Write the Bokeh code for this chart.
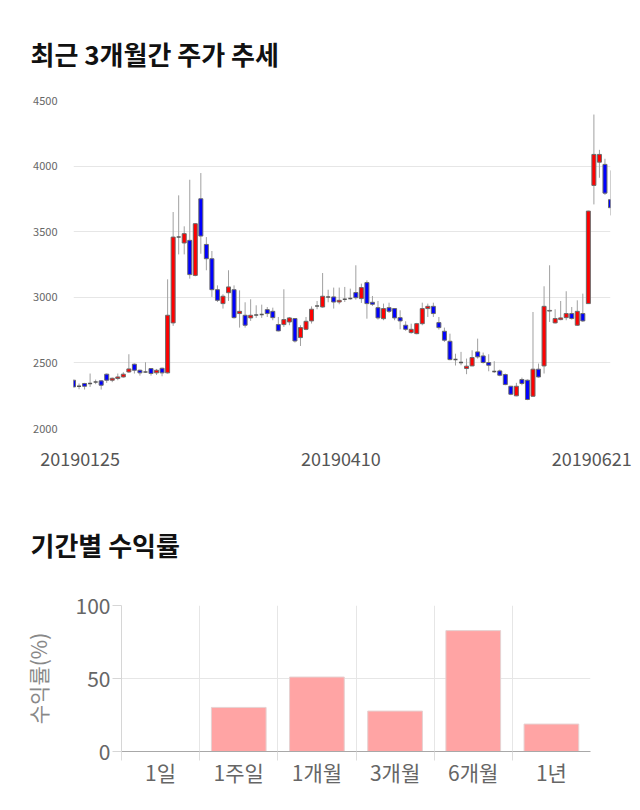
import numpy as np
from bokeh.plotting import figure
from bokeh.models import FixedTicker, Range1d, CustomJSTickFormatter
from bokeh.embed import file_html
from bokeh.resources import INLINE

# ---------------- data: candles (98 trading days) ----------------
opens = [2368, 2322, 2343, 2343, 2355, 2363, 2414, 2368, 2381, 2393,
         2431, 2490, 2444, 2431, 2457, 2424, 2459, 2424, 2805, 3460,
         3414, 3434, 3167, 3751, 3403, 3294, 3058, 2952, 3035, 3058,
         2876, 2863, 2843, 2866, 2868, 2906, 2893, 2792, 2792, 2812,
         2838, 2693, 2756, 2820, 2933, 2926, 3003, 3003, 2964, 2985,
         2990, 3036, 2990, 3112, 2962, 2921, 2837, 2921, 2914, 2845,
         2787, 2731, 2723, 2799, 2914, 2931, 2807, 2741, 2665, 2525,
         2503, 2457, 2477, 2584, 2553, 2503, 2434, 2439, 2411, 2322,
         2249, 2373, 2368, 2246, 2452, 2477, 2895, 2805, 2830, 2845,
         2876, 2787, 2876, 2952, 3853, 4030, 4013, 3744]
highs = [2375, 2343, 2348, 2419, 2373, 2368, 2419, 2388, 2419, 2429,
         2566, 2495, 2449, 2505, 2459, 2454, 2464, 3137, 3650, 3777,
         3541, 3896, 3565, 3947, 3459, 3353, 3091, 3023, 3206, 3091,
         3053, 2962, 2985, 2939, 2944, 2926, 2921, 2850, 3061, 2850,
         2840, 2787, 2850, 2931, 2972, 3185, 3058, 3074, 3074, 3079,
         3066, 3244, 3104, 3129, 3010, 2972, 2952, 2959, 2918, 2901,
         2817, 2799, 2805, 2959, 2952, 2959, 2850, 2769, 2723, 2570,
         2584, 2533, 2596, 2685, 2579, 2566, 2513, 2449, 2419, 2325,
         2348, 2388, 2373, 2888, 2495, 3084, 3244, 2909, 2972, 3046,
         2926, 2977, 3028, 3660, 4393, 4124, 4056, 3967]
lows = [2310, 2299, 2297, 2317, 2338, 2297, 2348, 2353, 2368, 2388,
        2424, 2419, 2403, 2424, 2403, 2408, 2398, 2419, 2782, 3327,
        3327, 3142, 3160, 3332, 3206, 3003, 2964, 2914, 2972, 2838,
        2769, 2769, 2820, 2843, 2843, 2850, 2825, 2740, 2774, 2787,
        2655, 2629, 2749, 2800, 2909, 2921, 2962, 2914, 2947, 2964,
        2982, 2982, 2957, 2837, 2934, 2830, 2825, 2880, 2825, 2756,
        2744, 2723, 2718, 2787, 2850, 2850, 2754, 2660, 2520, 2480,
        2482, 2414, 2475, 2533, 2495, 2436, 2424, 2398, 2330, 2254,
        2246, 2330, 2216, 2241, 2388, 2419, 2812, 2800, 2825, 2825,
        2830, 2782, 2812, 2950, 3708, 3911, 3780, 3624]
closes = [2317, 2322, 2322, 2343, 2355, 2330, 2368, 2383, 2393, 2414,
          2454, 2444, 2424, 2431, 2419, 2444, 2424, 2863, 3459, 3460,
          3485, 3173, 3561, 3467, 3294, 3058, 2977, 3008, 3079, 2845,
          2893, 2787, 2863, 2866, 2868, 2876, 2845, 2744, 2830, 2843,
          2667, 2769, 2817, 2909, 2933, 3008, 3003, 2964, 2977, 2985,
          2990, 2997, 3074, 2952, 2947, 2843, 2914, 2893, 2843, 2820,
          2756, 2756, 2799, 2914, 2931, 2876, 2769, 2673, 2525, 2525,
          2503, 2475, 2541, 2546, 2503, 2482, 2434, 2406, 2335, 2261,
          2322, 2343, 2221, 2452, 2393, 2931, 2900, 2838, 2843, 2876,
          2838, 2893, 2820, 3657, 4089, 4089, 3794, 3683]
date_labels = ["20190125", "20190410", "20190621"]
price_ticks = [2000, 2500, 3000, 3500, 4000, 4500]

# ---------------- data: period returns ----------------
periods = ["1일", "1주일", "1개월", "3개월", "6개월", "1년"]
returns = [0.0, 30.2, 51.0, 27.7, 82.8, 18.8]
return_ticks = [0, 50, 100]

FONT = "Noto Sans CJK KR"

# ================= candle chart =================
n = len(opens)
idx = np.arange(n)
o = np.array(opens, dtype=float)
c = np.array(closes, dtype=float)
h = np.array(highs, dtype=float)
l = np.array(lows, dtype=float)
up = c > o
dn = c < o
eq = c == o

p1 = figure(width=640, height=475, output_backend="svg", toolbar_location=None,
            x_range=Range1d(0, n - 1), y_range=Range1d(2000, 4500),
            min_border_left=73, min_border_right=30, min_border_top=100,
            min_border_bottom=47)
p1.outline_line_color = None
p1.background_fill_color = "white"
p1.border_fill_color = "white"

p1.title.text = "최근 3개월간 주가 추세"
p1.title.text_font = FONT
p1.title.text_font_size = "26px"
p1.title.text_font_style = "bold"
p1.title.text_color = "#111111"
p1.title.align = "left"
p1.title.vertical_align = "middle"
p1.title.offset = -43
p1.title.standoff = 56

bw = 0.72
p1.segment(idx, l, idx, h, color="#a0a0a0", line_width=1)
p1.vbar(x=idx[up], bottom=o[up], top=c[up], width=bw,
        fill_color="#ff0000", line_color="#6a6a6a", line_width=1)
p1.vbar(x=idx[dn], bottom=c[dn], top=o[dn], width=bw,
        fill_color="#0000ff", line_color="#6a6a6a", line_width=1)
p1.segment(idx[eq] - bw / 2, c[eq], idx[eq] + bw / 2, c[eq],
           color="#555555", line_width=1.5)

p1.yaxis.ticker = FixedTicker(ticks=price_ticks)
p1.yaxis.axis_line_color = None
p1.yaxis.major_tick_line_color = None
p1.yaxis.minor_tick_line_color = None
p1.yaxis.major_label_text_font = FONT
p1.yaxis.major_label_text_font_size = "11px"
p1.yaxis.major_label_text_color = "#666666"
p1.yaxis.major_label_standoff = 10

label_pos = [1.2, 48.3, 93.6]
p1.xaxis.ticker = FixedTicker(ticks=label_pos)
p1.xaxis.formatter = CustomJSTickFormatter(args=dict(labs=date_labels),
                                           code="return labs[index];")
p1.xaxis.axis_line_color = None
p1.xaxis.major_tick_line_color = None
p1.xaxis.minor_tick_line_color = None
p1.xaxis.major_label_text_font = FONT
p1.xaxis.major_label_text_font_size = "18px"
p1.xaxis.major_label_text_color = "#555555"
p1.xaxis.major_label_standoff = 17

p1.ygrid.ticker = FixedTicker(ticks=price_ticks)
p1.ygrid.grid_line_color = "#e6e6e6"
p1.xgrid.ticker = FixedTicker(ticks=[0])
p1.xgrid.grid_line_color = "#e6e6e6"

# ================= return bar chart =================
p2 = figure(width=640, height=335, output_backend="svg", toolbar_location=None,
            x_range=Range1d(0, len(periods)), y_range=Range1d(0, 100),
            min_border_left=121, min_border_right=50, min_border_top=130,
            min_border_bottom=59)
p2.outline_line_color = None
p2.title.text = "기간별 수익률"
p2.title.text_font = FONT
p2.title.text_font_size = "26px"
p2.title.text_font_style = "bold"
p2.title.text_color = "#111111"
p2.title.align = "left"
p2.title.vertical_align = "middle"
p2.title.offset = -91
p2.title.standoff = 84

centers = np.arange(len(periods)) + 0.5
p2.vbar(x=centers, bottom=0, top=returns, width=0.7,
        fill_color="#ffa4a4", line_color="#e6d2d2", line_width=1)

p2.yaxis.ticker = FixedTicker(ticks=return_ticks)
p2.yaxis.axis_line_color = "#d6d6d6"
p2.yaxis.major_tick_line_color = "#d6d6d6"
p2.yaxis.major_tick_out = 9
p2.yaxis.major_tick_in = 0
p2.yaxis.minor_tick_line_color = None
p2.yaxis.major_label_text_font = FONT
p2.yaxis.major_label_text_font_size = "21px"
p2.yaxis.major_label_text_color = "#666666"
p2.yaxis.major_label_standoff = 2
p2.yaxis.axis_label = "수익률(%)"
p2.yaxis.axis_label_text_font = FONT
p2.yaxis.axis_label_text_font_size = "21px"
p2.yaxis.axis_label_text_font_style = "normal"
p2.yaxis.axis_label_text_color = "#888888"
p2.yaxis.axis_label_standoff = 20

p2.xaxis.ticker = FixedTicker(ticks=list(centers),
                              minor_ticks=list(range(len(periods))))
p2.xaxis.formatter = CustomJSTickFormatter(args=dict(labs=periods),
                                           code="return labs[index];")
p2.xaxis.axis_line_color = "#a8a8a8"
p2.xaxis.major_tick_line_color = None
p2.xaxis.minor_tick_line_color = "#dddddd"
p2.xaxis.minor_tick_out = 9
p2.xaxis.minor_tick_in = 0
p2.xaxis.major_label_text_font = FONT
p2.xaxis.major_label_text_font_size = "21px"
p2.xaxis.major_label_text_color = "#666666"
p2.xaxis.major_label_standoff = -4

p2.ygrid.ticker = FixedTicker(ticks=return_ticks)
p2.ygrid.grid_line_color = "#e6e6e6"
p2.xgrid.ticker = FixedTicker(ticks=list(range(1, len(periods))))
p2.xgrid.grid_line_color = "#e6e6e6"

open("out.html", "w").write(file_html([p1, p2], INLINE))
